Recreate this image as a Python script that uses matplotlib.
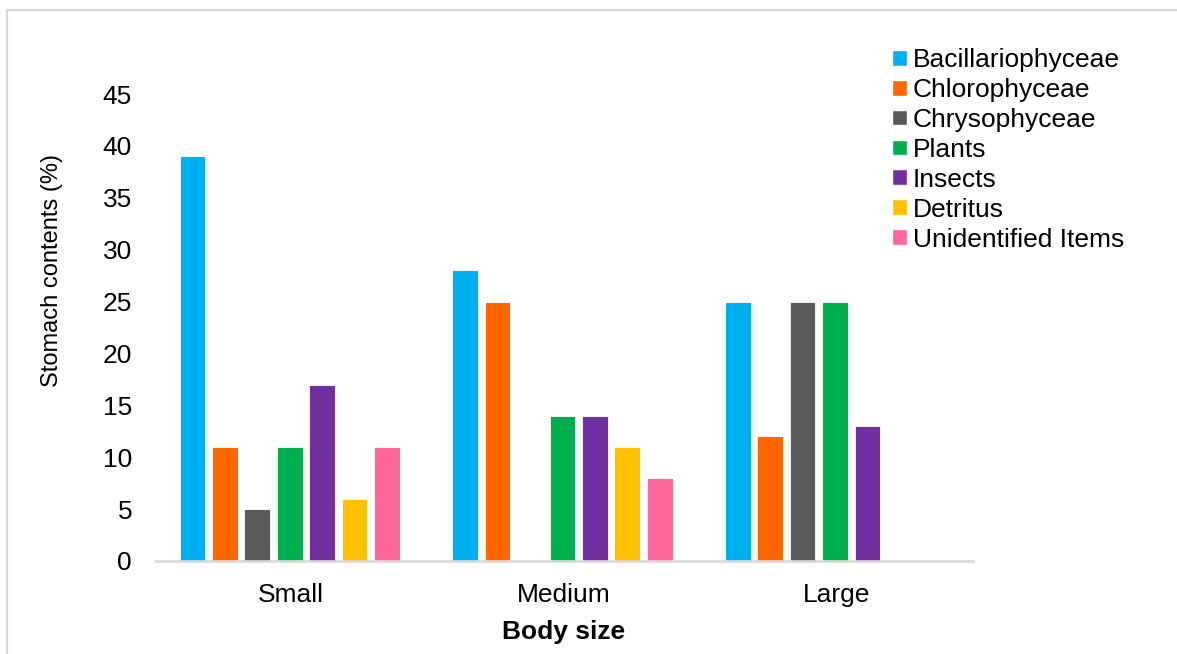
import matplotlib.pyplot as plt
from matplotlib.patches import Patch, Rectangle
import numpy as np

plt.rcParams['font.family'] = ['Liberation Sans', 'DejaVu Sans']

sizes = ['Small', 'Medium', 'Large']
items = ['Bacillariophyceae', 'Chlorophyceae', 'Chrysophyceae', 'Plants',
         'Insects', 'Detritus', 'Unidentified Items']
bacillario = [39, 28, 25]
chloro = [11, 25, 12]
chryso = [5, 0, 25]
plants = [11, 14, 25]
insects = [17, 14, 13]
detritus = [6, 11, 0]
unidentified = [11, 8, 0]
series = [bacillario, chloro, chryso, plants, insects, detritus, unidentified]
colors = ['#00B0F0', '#FF6600', '#595959', '#00B050', '#7030A0', '#FFC000', '#FF6699']

fig = plt.figure(figsize=(11.77, 6.54), dpi=100)
fig.patch.set_facecolor('white')

# light outer frame (cut off at right and bottom like the source)
fig.patches.append(Rectangle((7 / 1177, -0.05), 1.2, 1 - 10 / 654 + 0.05,
                             transform=fig.transFigure, fill=False,
                             edgecolor='#D9D9D9', linewidth=1.6))

ax = fig.add_axes([155 / 1177, 1 - 561 / 654, 818 / 1177, (561 - 94) / 654])

x = np.arange(len(sizes))
step = 0.119
bw = 0.094
for i, (vals, c, name) in enumerate(zip(series, colors, items)):
    ax.bar(x + (i - 3) * step - 0.006, vals, width=bw, color=c, edgecolor='white',
           linewidth=0.6, label=name, zorder=2)

ax.set_xlim(-0.5, 2.5)
ax.set_ylim(0, 45)
ax.set_yticks(range(0, 46, 5))
ax.set_xticks(x)
ax.set_xticklabels(sizes)
ax.tick_params(axis='both', length=0, labelsize=19, colors='black')
ax.tick_params(axis='y', pad=16.5)
ax.tick_params(axis='x', pad=16)

for s in ['top', 'right', 'left']:
    ax.spines[s].set_visible(False)
ax.spines['bottom'].set_color('#D9D9D9')
ax.spines['bottom'].set_linewidth(1.9)
ax.spines['bottom'].set_zorder(3)

ax.set_xlabel('Body size', fontsize=19, fontweight='bold', labelpad=9)
ax.set_ylabel('Stomach contents (%)', fontsize=17)
ax.yaxis.set_label_coords(-0.112, 0.623)

handles = [Patch(facecolor=c, edgecolor='white', label=n) for c, n in zip(colors, items)]
fig.legend(handles=handles, loc='upper left', bbox_to_anchor=(892 / 1177, 1 - 48 / 654),
           frameon=False, fontsize=19, handlelength=0.55, handleheight=0.55,
           handletextpad=0.25, labelspacing=0.225, borderaxespad=0, borderpad=0)

plt.savefig('out.png', dpi=100, facecolor='white')
plt.close()
